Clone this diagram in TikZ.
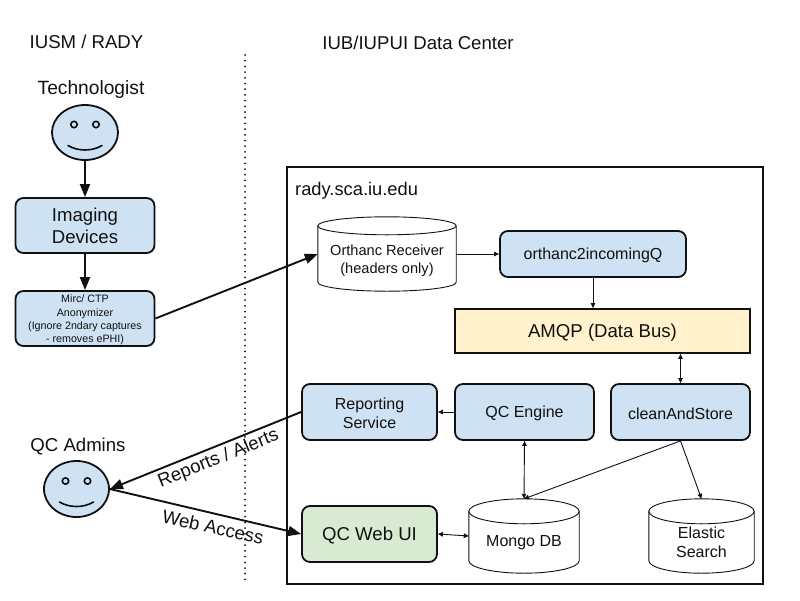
\documentclass[tikz,border=0pt]{standalone}
\usepackage{fontspec}
\setmainfont{Liberation Sans}
\usetikzlibrary{arrows.meta,calc}
\definecolor{bluefill}{HTML}{CFE2F3}
\definecolor{greenfill}{HTML}{D9EAD3}
\definecolor{yellowfill}{HTML}{FFF2CC}
\definecolor{ink}{HTML}{111111}
\newcommand\fs[2]{\fontsize{#1}{#2}\selectfont}
\newcommand\lo[1]{\raisebox{-1.5pt}[\height][\depth]{#1}}
\tikzset{
  txtlarge/.style={font=\fs{18.6}{22}, text=ink, align=center},
  txtmid/.style={font=\fs{16}{18.7}, text=ink, align=center},
  txtsmall/.style={font=\fs{10.7}{13.3}, text=ink, align=center},
  bx/.style={draw=ink, line width=1.8pt, rounded corners=8pt, inner sep=0pt, fill=bluefill},
  face/.style={draw=ink, line width=1.8pt, fill=bluefill, ellipse, inner sep=0pt},
  faceline/.style={draw=ink, line width=1.6pt, line cap=round},
  heavy/.style={draw=ink, line width=1.9pt, -{Triangle[length=13pt,width=10pt]}},
  light/.style={draw=ink, line width=0.9pt, -{Triangle[length=5pt,width=4.5pt]}},
  lightboth/.style={draw=ink, line width=0.9pt, {Triangle[length=5pt,width=4.5pt]}-{Triangle[length=5pt,width=4.5pt]}},
  dbtext/.style={inner sep=0pt, align=center, text=ink},
  dbline/.style={draw=ink, line width=0.9pt, fill=white},
}
% cylinder outline around a named node; #2 is half the height of the end ellipse
\newcommand\dbshape[2]{%
  \draw[dbline]
    ($(#1.north west)+(0,#2)$)
      .. controls ($(#1.north west)+(0,#2*0.45)$) and ($(#1.north west)!0.45!(#1.north)$) .. (#1.north)
      .. controls ($(#1.north east)!0.45!(#1.north)$) and ($(#1.north east)+(0,#2*0.45)$) .. ($(#1.north east)+(0,#2)$)
      -- ($(#1.south east)+(0,-#2)$)
      .. controls ($(#1.south east)+(0,-#2*0.45)$) and ($(#1.south east)!0.45!(#1.south)$) .. (#1.south)
      .. controls ($(#1.south west)!0.45!(#1.south)$) and ($(#1.south west)+(0,-#2*0.45)$) .. ($(#1.south west)+(0,-#2)$)
      -- cycle;
  \draw[dbline, fill=none]
    ($(#1.north west)+(0,#2)$)
      .. controls ($(#1.north west)+(0,#2*1.55)$) and ($(#1.north west)!0.45!(#1.north)+(0,#2*2)$) .. ($(#1.north)+(0,#2*2)$)
      .. controls ($(#1.north east)!0.45!(#1.north)+(0,#2*2)$) and ($(#1.north east)+(0,#2*1.55)$) .. ($(#1.north east)+(0,#2)$);
}
\newcommand\facefeatures[1]{%
  \draw[faceline] ([shift={(-11,-8)}]#1.center) circle[radius=3.2];
  \draw[faceline] ([shift={(11,-8)}]#1.center) circle[radius=3.2];
  \draw[faceline] ([shift={(-17,13)}]#1.center) .. controls ([shift={(-7,19)}]#1.center) and ([shift={(7,19)}]#1.center) .. ([shift={(17,13)}]#1.center);
}
\usetikzlibrary{shapes.geometric}
\begin{document}
\begin{tikzpicture}[x=1pt,y=-1pt]
\useasboundingbox[fill=white] (0,0) rectangle (800,600);

\coordinate (dotA) at (245,55);
\coordinate (dotB) at (245,585);
\draw[ink, line width=2pt, line cap=round, dash pattern=on 0pt off 5.7pt] (dotA) -- (dotB);

\node[txtlarge, anchor=center] (hleft) at (86.5,42) {IUSM / RADY};
\node[txtlarge, anchor=center] (hright) at (418,43) {IUB/IUPUI Data Center};

\node[draw=ink, line width=1.8pt, fill=white, minimum width=476pt, minimum height=417pt, inner sep=0pt] (frame) at (525,375.5) {};
\node[font=\fs{18.3}{22}, text=ink, anchor=west, inner sep=0pt] (rady) at (295,190.5) {rady.sca.iu.edu};

\node[font=\fs{19.2}{22}, text=ink] (techlabel) at (91,90) {Technologist};
\node[face, minimum width=66pt, minimum height=55pt] (tech) at (85,132.5) {};
\facefeatures{tech}

\node[bx, txtlarge, minimum width=139pt, minimum height=55pt] (imaging) at (85,225.5) {Imaging\\Devices};
\node[bx, txtsmall, minimum width=139pt, minimum height=55pt] (mirc) at (85,318.5) {\lo{Mirc/ CTP}\\\lo{Anonymizer}\\\lo{(Ignore 2ndary captures}\\\lo{- removes ePHI)}};

\node[txtlarge] (adminlabel) at (78,447) {QC Admins};
\node[face, minimum width=65pt, minimum height=56pt] (admin) at (76.5,489) {};
\facefeatures{admin}

\node[dbtext, minimum width=138pt, minimum height=74pt] (orth) at (387,254) {};
\dbshape{orth}{9}
\node[dbtext, font=\fs{14.6}{18}] (orthtext) at (orth.center) [yshift=-7pt] {Orthanc Receiver\\(headers only)};

\node[bx, txtmid, minimum width=186pt, minimum height=46pt] (orthq) at (593,254) {\lo{orthanc2incomingQ}};
\node[draw=ink, line width=1.8pt, fill=yellowfill, txtlarge, inner sep=0pt, minimum width=295pt, minimum height=44pt] (amqp) at (602.5,331) {\lo{AMQP (Data Bus)}};

\node[bx, txtmid, minimum width=135pt, minimum height=56pt] (report) at (369.5,412) {\lo{Reporting}\\\lo{Service}};
\node[bx, txtmid, minimum width=139pt, minimum height=56pt] (engine) at (524.5,412) {\lo{QC Engine}};
\node[bx, txtmid, minimum width=139pt, minimum height=56pt] (clean) at (680.5,412) {\lo{cleanAndStore}};
\node[bx, txtlarge, fill=greenfill, minimum width=135pt, minimum height=56pt] (webui) at (369.5,534) {\lo{QC Web UI}};

\node[dbtext, minimum width=110pt, minimum height=74pt] (mongo) at (524,536) {};
\dbshape{mongo}{12.5}
\node[dbtext, font=\fs{16}{18.7}] (mongotext) at (mongo.center) [yshift=-7pt] {Mongo DB};
\node[dbtext, minimum width=105pt, minimum height=74pt] (elastic) at (701.5,536) {};
\dbshape{elastic}{12.5}
\node[dbtext, font=\fs{16}{18.7}] (elastictext) at (elastic.center) [yshift=-6.5pt] {Elastic\\Search};

\draw[heavy] (tech.south) -- (imaging.north);
\draw[heavy] (imaging.south) -- (mirc.north);
\draw[heavy] (mirc.east) -- (orth.west);
\draw[heavy] (report.west) -- (admin.east);
\draw[heavy] (admin.east) -- (webui.west);

\draw[light] (orth.east) -- (orthq.west);
\draw[light] (orthq.south) -- (orthq.south |- amqp.north);
\draw[lightboth] (clean.north) -- (clean.north |- amqp.south);
\draw[light] (engine.west) -- (report.east);
\draw[lightboth] (engine.south) -- (mongo.north);
\draw[light] (clean.south) -- (mongo.north);
\draw[light] (clean.south) -- (elastic.north);
\draw[lightboth] (webui.east) -- (mongo.west);

\node[txtlarge, rotate=22] (replabel) at (218.5,459) {Reports / Alerts};
\node[txtlarge, rotate=-12.5] (weblabel) at (213,527) {Web Access};
\end{tikzpicture}
\end{document}
